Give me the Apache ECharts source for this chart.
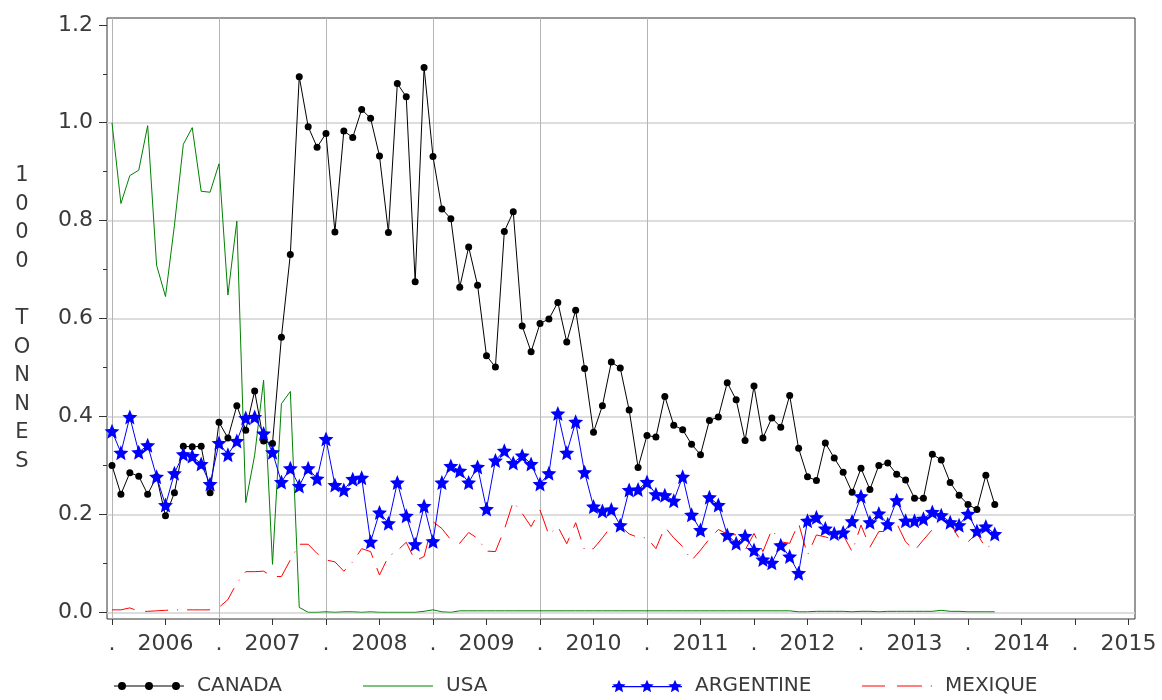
<!DOCTYPE html>
<html>
<head>
<meta charset="utf-8">
<script src="https://cdn.jsdelivr.net/npm/echarts@6/dist/echarts.min.js"></script>
<style>
  html, body { margin: 0; padding: 0; background: #fff; }
  #chart { width: 1162px; height: 700px; }
</style>
</head>
<body>
<div id="chart"></div>
<script>
// monthly values, Jan 2006 .. Apr 2014 (1000 tonnes)
const startYear = 2006;
const canada = [0.300,0.241,0.285,0.278,0.241,0.277,0.197,0.244,0.339,0.338,
  0.339,0.244,0.388,0.356,0.422,0.372,0.452,0.350,0.345,0.562,
  0.731,1.094,0.992,0.950,0.978,0.777,0.983,0.970,1.027,1.009,
  0.932,0.776,1.080,1.053,0.675,1.113,0.931,0.824,0.804,0.664,
  0.746,0.668,0.524,0.501,0.778,0.818,0.585,0.532,0.590,0.599,
  0.633,0.552,0.617,0.498,0.368,0.422,0.511,0.499,0.413,0.296,
  0.361,0.358,0.441,0.382,0.373,0.343,0.322,0.392,0.399,0.469,
  0.434,0.351,0.462,0.356,0.397,0.378,0.443,0.335,0.277,0.269,
  0.346,0.315,0.286,0.245,0.294,0.251,0.300,0.305,0.282,0.270,
  0.233,0.233,0.323,0.311,0.265,0.239,0.220,0.210,0.280,0.220];
const usa = [1.000,0.835,0.892,0.903,0.994,0.709,0.645,0.790,0.956,0.990,
  0.860,0.858,0.916,0.648,0.799,0.224,0.321,0.474,0.098,0.426,
  0.451,0.010,0.000,0.000,0.001,0.000,0.001,0.001,0.000,0.001,
  0.000,0.000,0.000,0.000,0.000,0.002,0.005,0.001,0.000,0.003,
  0.003,0.003,0.003,0.003,0.003,0.003,0.003,0.003,0.003,0.003,
  0.003,0.003,0.003,0.003,0.003,0.003,0.003,0.003,0.003,0.003,
  0.003,0.003,0.003,0.003,0.003,0.003,0.003,0.003,0.003,0.003,
  0.003,0.003,0.003,0.003,0.003,0.003,0.003,0.001,0.001,0.002,
  0.002,0.002,0.002,0.001,0.002,0.002,0.001,0.002,0.002,0.002,
  0.002,0.002,0.002,0.004,0.002,0.002,0.001,0.001,0.001,0.001];
const argentine = [0.370,0.326,0.399,0.327,0.341,0.277,0.219,0.284,0.323,0.319,
  0.303,0.262,0.346,0.322,0.350,0.397,0.399,0.365,0.327,0.266,
  0.294,0.258,0.294,0.273,0.354,0.260,0.250,0.272,0.275,0.144,
  0.204,0.182,0.265,0.197,0.139,0.217,0.145,0.265,0.299,0.289,
  0.265,0.297,0.211,0.310,0.330,0.305,0.320,0.303,0.262,0.284,
  0.406,0.326,0.389,0.286,0.216,0.207,0.210,0.178,0.250,0.251,
  0.266,0.241,0.239,0.228,0.277,0.199,0.168,0.235,0.219,0.158,
  0.141,0.156,0.127,0.108,0.101,0.137,0.114,0.080,0.187,0.194,
  0.171,0.161,0.163,0.186,0.237,0.184,0.202,0.180,0.229,0.187,
  0.187,0.191,0.205,0.198,0.184,0.178,0.201,0.166,0.175,0.160];
const mexique = [0.005,0.005,0.009,0.002,0.002,0.003,0.004,0.005,0.005,0.005,
  0.005,0.005,0.010,0.026,0.060,0.083,0.083,0.084,0.073,0.073,
  0.107,0.139,0.139,0.120,0.107,0.103,0.084,0.103,0.130,0.124,
  0.076,0.114,0.126,0.143,0.105,0.114,0.185,0.171,0.148,0.141,
  0.163,0.151,0.125,0.124,0.169,0.226,0.202,0.175,0.209,0.158,
  0.175,0.140,0.183,0.127,0.130,0.152,0.176,0.176,0.160,0.153,
  0.152,0.130,0.174,0.152,0.134,0.106,0.127,0.150,0.169,0.160,
  0.158,0.127,0.161,0.124,0.169,0.144,0.141,0.182,0.117,0.158,
  0.154,0.148,0.158,0.124,0.178,0.133,0.165,0.165,0.182,0.144,
  0.126,0.148,0.169,0.192,0.182,0.151,0.144,0.161,0.131,0.141];

// x axis: '.' at each Jan 1, year name at mid-year
const xTicks = [2006,2006.5,2007,2007.5,2008,2008.5,2009,2009.5,2010,2010.5,
  2011,2011.5,2012,2012.5,2013,2013.5,2014,2014.5,2015,2015.5];
const gridYears = [2006, 2007, 2008, 2009, 2010, 2011];
const yTitle = ['1','0','0','0','','T','O','N','N','E','S'];

const xMin = 2005.9533, xMax = 2015.5607;
const FONT = 'DejaVu Sans';
const TXT = '#3a3a3a';

const toXY = arr => arr.map((v, i) => [startYear + i / 12, v]);

function star(cx, cy, R, r) {
  let d = '';
  for (let k = 0; k < 10; k++) {
    const a = (-90 + k * 36) * Math.PI / 180;
    const rad = k % 2 ? r : R;
    d += (k ? 'L' : 'M') + (cx + rad * Math.cos(a)).toFixed(2) + ' ' + (cy + rad * Math.sin(a)).toFixed(2);
  }
  return d + 'Z';
}
function circle(cx, cy, r) {
  return `M${cx - r} ${cy}A${r} ${r} 0 0 1 ${cx + r} ${cy}A${r} ${r} 0 0 1 ${cx - r} ${cy}Z`;
}

const starSymbol = 'path://' + star(7, 7, 7, 3.2);
const iconCanada = 'path://M0 3.4H70V4.6H0Z' + circle(8, 4, 4) + circle(35, 4, 4) + circle(62, 4, 4);
const iconUsa = 'path://M0 0H70V1.2H0Z';
const iconArg = 'path://M0 6.4H70V7.6H0Z' + star(7, 7, 7, 3.2) + star(35, 7, 7, 3.2) + star(63, 7, 7, 3.2);
const iconMex = 'path://M0 0H23V1.2H0ZM35 0H60V1.2H35ZM68.8 0H70V1.2H68.8Z';

const legendItem = (name, icon, left) => ({
  data: [{ name: name, icon: icon }],
  left: left,
  top: 675,
  padding: 0,
  itemWidth: 70,
  itemHeight: 14,
  selectedMode: false,
  itemStyle: { borderWidth: 0 },
  textStyle: { fontFamily: FONT, fontSize: 20, color: TXT, lineHeight: 22, padding: [0, 0, 0, 8] }
});

const chart = echarts.init(document.getElementById('chart'));

const option = {
  animation: false,
  backgroundColor: '#fff',
  grid: [
    { left: 107, right: 27, top: 24.8, bottom: 87.7, containLabel: false },
    { left: 107, right: 27, top: 18, bottom: 81, show: true, borderColor: '#333', borderWidth: 1, backgroundColor: 'transparent' }
  ],
  xAxis: [
    { type: 'value', gridIndex: 0, min: xMin, max: xMax, show: false },
    {
      type: 'value', gridIndex: 1, min: xMin, max: xMax,
      axisLine: { show: false },
      splitLine: { show: false },
      axisTick: { show: true, length: 6, lineStyle: { color: '#333' }, customValues: xTicks },
      axisLabel: {
        customValues: xTicks,
        margin: 14,
        fontFamily: FONT, fontSize: 22, color: TXT,
        formatter: v => Number.isInteger(v) ? '.' : String(Math.floor(v))
      }
    }
  ],
  yAxis: [
    {
      type: 'value', gridIndex: 0, min: 0, max: 1.2, interval: 0.2,
      axisLine: { show: false },
      axisTick: { show: true, length: 8, lineStyle: { color: '#333' } },
      minorTick: { show: true, splitNumber: 2, length: 4, lineStyle: { color: '#333' } },
      splitLine: { show: true, showMaxLine: false, lineStyle: { color: '#d2d2d2', width: 1.5 } },
      axisLabel: { margin: 14, fontFamily: FONT, fontSize: 22, color: TXT, formatter: v => v.toFixed(1) },
      name: yTitle.join('\n'),
      nameLocation: 'middle',
      nameRotate: 0,
      nameGap: 85,
      nameTextStyle: { fontFamily: FONT, fontSize: 21, color: TXT, lineHeight: 28.6, align: 'center' }
    },
    { type: 'value', gridIndex: 1, min: 0, max: 1, show: false }
  ],
  legend: [
    legendItem('CANADA', iconCanada, 114),
    legendItem('USA', iconUsa, 363),
    legendItem('ARGENTINE', iconArg, 612),
    legendItem('MEXIQUE', iconMex, 862)
  ],
  series: [
    {
      name: 'grid-years',
      type: 'line',
      xAxisIndex: 1, yAxisIndex: 1,
      data: [],
      silent: true,
      markLine: {
        silent: true,
        z: 1,
        symbol: ['none', 'none'],
        label: { show: false },
        lineStyle: { color: '#b4b4b4', type: 'solid', width: 1 },
        data: gridYears.map(y => ({ xAxis: y }))
      }
    },
    {
      name: 'USA',
      type: 'line',
      data: toXY(usa),
      showSymbol: false,
      lineStyle: { color: '#008000', width: 1 },
      itemStyle: { color: '#008000' }
    },
    {
      name: 'MEXIQUE',
      type: 'line',
      data: toXY(mexique),
      showSymbol: false,
      lineStyle: { color: '#ff0000', width: 1, type: [23, 11, 23, 9, 1, 9] },
      itemStyle: { color: '#ff0000' }
    },
    {
      name: 'CANADA',
      type: 'line',
      data: toXY(canada),
      symbol: 'circle',
      symbolSize: 7,
      showAllSymbol: true,
      lineStyle: { color: '#000', width: 1 },
      itemStyle: { color: '#000' }
    },
    {
      name: 'ARGENTINE',
      type: 'line',
      data: toXY(argentine),
      symbol: starSymbol,
      symbolSize: 15,
      showAllSymbol: true,
      lineStyle: { color: '#0000ff', width: 1 },
      itemStyle: { color: '#0000ff' }
    }
  ]
};

chart.setOption(option);
</script>
</body>
</html>
